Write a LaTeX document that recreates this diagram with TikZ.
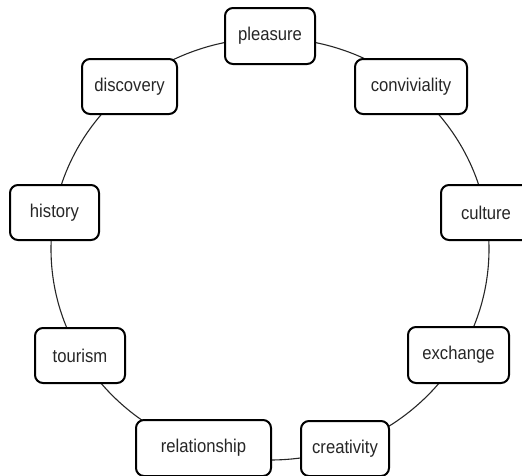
\documentclass[tikz,border=0pt]{standalone}
\usepackage{fontspec}
\setmainfont[FakeStretch=0.9]{Liberation Sans}
\begin{document}
\begin{tikzpicture}[x=1pt,y=-1pt,
  term/.style={draw=black, line width=2pt, rounded corners=8pt, fill=white,
    text=black!85, inner sep=0pt, minimum height=55pt,
    font=\fontsize{18.5}{20}\selectfont},
  ring/.style={draw=black!85, line width=1.1pt}]
\useasboundingbox (0,0) rectangle (522,475);
\clip (0,0) rectangle (522,475);
\coordinate (c) at (270,249);
\draw[ring] (c) ellipse [x radius=219pt, y radius=211pt];
\node[term, minimum width=90pt, minimum height=56pt] (pleasure) at (270,36) {pleasure};
\node[term, minimum width=95pt] (discovery) at (129.5,86.5) {discovery};
\node[term, minimum width=112pt] (conviviality) at (411,86.5) {conviviality};
\node[term, minimum width=89pt] (history) at (54.5,212.5) {history};
\node[term, minimum width=90pt] (culture) at (486,212.5) {culture};
\node[term, minimum width=90pt] (tourism) at (80,355.5) {tourism};
\node[term, minimum width=101pt, minimum height=56pt] (exchange) at (458.5,355) {exchange};
\node[term, minimum width=135pt, minimum height=56pt] (relationship) at (203.5,448) {relationship};
\node[term, minimum width=88pt, minimum height=55pt] (creativity) at (345,448.5) {creativity};
\end{tikzpicture}
\end{document}
